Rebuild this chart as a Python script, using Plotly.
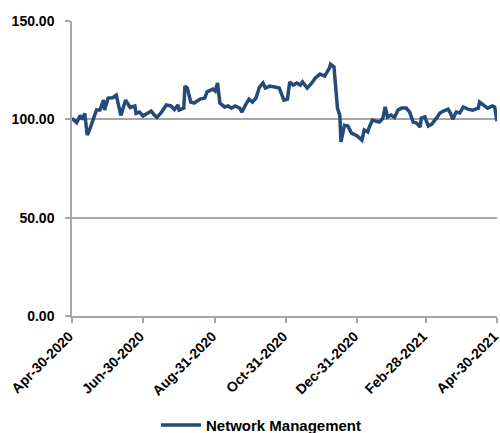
import plotly.graph_objects as go

dates = [
    "2020-04-30", "2020-05-04", "2020-05-07", "2020-05-09", "2020-05-11", "2020-05-13",
    "2020-05-15", "2020-05-21", "2020-05-24", "2020-05-27", "2020-05-28", "2020-05-31",
    "2020-06-04", "2020-06-07", "2020-06-11", "2020-06-13", "2020-06-15", "2020-06-19",
    "2020-06-23", "2020-06-24", "2020-06-27", "2020-06-30", "2020-07-04", "2020-07-07",
    "2020-07-10", "2020-07-12", "2020-07-16", "2020-07-20", "2020-07-24", "2020-07-27",
    "2020-07-30", "2020-07-31", "2020-08-04", "2020-08-05", "2020-08-07", "2020-08-10",
    "2020-08-13", "2020-08-18", "2020-08-22", "2020-08-24", "2020-08-29", "2020-08-31",
    "2020-09-02", "2020-09-04", "2020-09-08", "2020-09-11", "2020-09-14", "2020-09-17",
    "2020-09-21", "2020-09-23", "2020-09-26", "2020-09-29", "2020-10-02", "2020-10-05",
    "2020-10-08", "2020-10-11", "2020-10-13", "2020-10-17", "2020-10-21", "2020-10-25",
    "2020-10-29", "2020-11-01", "2020-11-03", "2020-11-06", "2020-11-09", "2020-11-12",
    "2020-11-14", "2020-11-18", "2020-11-22", "2020-11-25", "2020-11-29", "2020-12-03",
    "2020-12-07", "2020-12-08", "2020-12-11", "2020-12-14", "2020-12-16", "2020-12-17",
    "2020-12-20", "2020-12-23", "2020-12-26", "2020-12-31", "2021-01-04", "2021-01-06",
    "2021-01-09", "2021-01-10", "2021-01-13", "2021-01-16", "2021-01-19", "2021-01-22",
    "2021-01-24", "2021-01-26", "2021-01-29", "2021-02-01", "2021-02-04", "2021-02-07",
    "2021-02-11", "2021-02-14", "2021-02-17", "2021-02-20", "2021-02-23", "2021-02-24",
    "2021-02-27", "2021-03-02", "2021-03-05", "2021-03-09", "2021-03-12", "2021-03-15",
    "2021-03-19", "2021-03-21", "2021-03-23", "2021-03-26", "2021-03-29", "2021-04-01",
    "2021-04-05", "2021-04-09", "2021-04-14", "2021-04-15", "2021-04-20", "2021-04-22",
    "2021-04-26", "2021-04-28", "2021-04-30",
]

values = [
    100.5, 98.3, 102.0, 100.0, 103.0, 92.0,
    94.5, 104.7, 104.7, 109.8, 104.7, 110.8,
    111.0, 112.3, 102.0, 106.0, 109.8, 106.0,
    106.8, 103.0, 103.7, 101.7, 103.0, 104.2,
    102.0, 101.0, 103.7, 107.3, 106.8, 105.0,
    107.3, 104.7, 105.7, 116.9, 115.9, 108.8,
    108.3, 110.3, 110.8, 114.0, 115.4, 114.4,
    118.5, 108.3, 106.3, 106.8, 105.7, 106.8,
    105.7, 103.7, 107.3, 110.3, 108.8, 110.8,
    116.4, 118.5, 115.9, 116.9, 116.4, 115.9,
    109.8, 110.3, 119.0, 117.4, 118.5, 117.4,
    119.0, 115.9, 118.5, 121.0, 123.0, 122.0,
    126.0, 128.0, 126.6, 105.7, 102.0, 88.5,
    97.0, 96.6, 93.0, 91.5, 89.5, 94.6,
    93.6, 95.6, 99.6, 99.1, 98.6, 100.6,
    106.3, 101.2, 102.2, 101.0, 104.7, 105.7,
    105.7, 103.7, 98.6, 98.1, 96.1, 100.6,
    101.2, 96.6, 97.6, 100.6, 103.2, 104.2,
    105.2, 103.2, 100.1, 103.7, 103.2, 106.3,
    105.2, 104.7, 105.7, 108.8, 106.8, 105.7,
    106.8, 106.3, 99.1,
]

tick_dates = ["2020-04-30", "2020-06-30", "2020-08-31", "2020-10-31",
              "2020-12-31", "2021-02-28", "2021-04-30"]
tick_labels = ["Apr-30-2020", "Jun-30-2020", "Aug-31-2020", "Oct-31-2020",
               "Dec-31-2020", "Feb-28-2021", "Apr-30-2021"]
y_ticks = [0, 50, 100, 150]

fig = go.Figure()
fig.add_trace(go.Scatter(
    x=dates, y=values, mode="lines", name="Network Management",
    line=dict(color="#234A78", width=3.5),
    cliponaxis=False,
))

font_family = "Liberation Sans, Arial, sans-serif"
fig.update_layout(
    width=500, height=433,
    margin=dict(l=72, r=3, t=21, b=117, autoexpand=False),
    plot_bgcolor="white", paper_bgcolor="white",
    font=dict(family=font_family, size=14, color="black"),
    showlegend=True,
    legend=dict(orientation="h", xref="container", yref="container",
                x=0.312, xanchor="left", y=0.018, yanchor="middle",
                itemwidth=40,
                font=dict(family=font_family, size=15, color="black", weight="bold")),
    xaxis=dict(
        type="date", automargin=False, ticklabeloverflow="allow", ticklabelshift=-3,
        range=["2020-04-30", "2021-04-30"],
        tickvals=tick_dates, ticktext=tick_labels, tickangle=-45,
        tickfont=dict(family=font_family, size=14, color="black", weight="bold"),
        showgrid=False, showline=True, linecolor="#A6A6A6", linewidth=1.5,
        ticks="outside", ticklen=5, tickcolor="#A6A6A6", tickwidth=1.5,
        zeroline=False,
    ),
    yaxis=dict(
        automargin=False, ticklabeloverflow="allow", ticklabelstandoff=8,
        range=[0, 150], tickvals=y_ticks, tickformat=".2f",
        tickfont=dict(family=font_family, size=14, color="black", weight="bold"),
        showgrid=True, gridcolor="#A6A6A6", gridwidth=1.5,
        showline=True, linecolor="#A6A6A6", linewidth=1.5,
        ticks="outside", ticklen=5, tickcolor="#A6A6A6", tickwidth=1.5,
        zeroline=False,
    ),
)

# Remove the browser's default 8px page margin so the 500x433 figure fills the window.
fig.write_html(
    "out.html",
    config={"displayModeBar": False},
    post_script="document.body.style.margin='0';document.body.style.overflow='hidden';",
)
